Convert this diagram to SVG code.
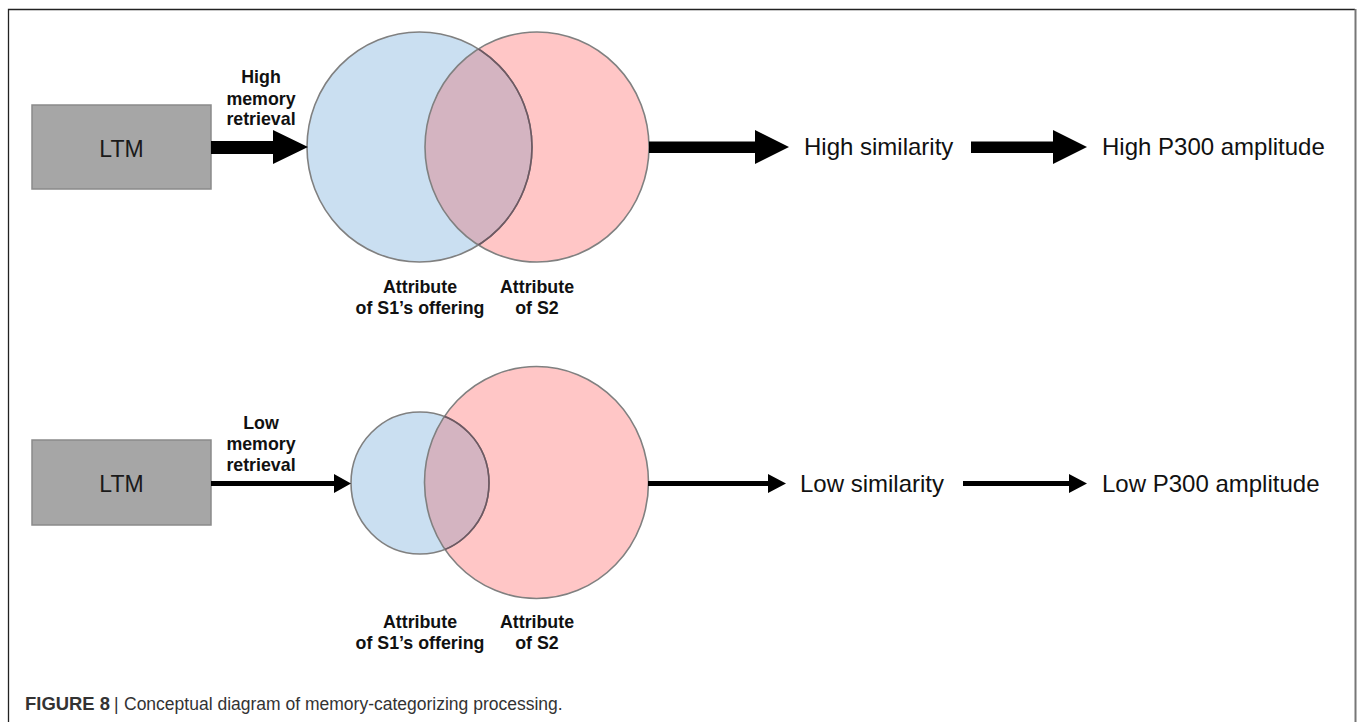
<svg xmlns="http://www.w3.org/2000/svg" width="1358" height="722" viewBox="0 0 1358 722">
<style>
.ltm{fill:#a6a6a6;stroke:#8a8a8a;stroke-width:1.5}
.ltmt{font-family:"Liberation Sans",Arial,sans-serif;font-size:23px;fill:#1a1a1a;text-anchor:middle}
.blue{fill:#cadff1}
.red{fill:#ffc6c6}
.lens{fill:#d4b4c1}
.ring{fill:none;stroke:#808080;stroke-width:1.6}
.ringd{fill:none;stroke:#6e5862;stroke-width:1.6}
.lbl{font-family:"Liberation Sans",Arial,sans-serif;font-size:17.8px;font-weight:bold;fill:#111;text-anchor:middle}
.big{font-family:"Liberation Sans",Arial,sans-serif;font-size:24px;fill:#111}
.arr{fill:#000}
.cap{font-family:"Liberation Sans",Arial,sans-serif;font-size:17.5px;fill:#333}
</style>
<defs>
<clipPath id="clipTopRed"><ellipse cx="537" cy="147" rx="112" ry="115"/></clipPath>
<clipPath id="clipBotRed"><ellipse cx="536.5" cy="482.5" rx="112" ry="116"/></clipPath>
</defs>
<rect x="0" y="0" width="1358" height="722" fill="#fff"/>
<path d="M8.5 722 V9.5 H1355" fill="none" stroke="#222" stroke-width="1.3"/>
<path d="M1355.5 9 V722" fill="none" stroke="#777" stroke-width="2"/>

<g id="ltm-top">
<rect class="ltm" x="32" y="105" width="179" height="84"/>
<text class="ltmt" x="121.5" y="157">LTM</text>
</g>
<g id="label-high-retrieval">
<text class="lbl" x="261" y="83">High</text>
<text class="lbl" x="261" y="105">memory</text>
<text class="lbl" x="261" y="125">retrieval</text>
</g>
<g id="venn-top">
<ellipse class="blue" cx="419.5" cy="147" rx="112.5" ry="115"/>
<ellipse class="red" cx="537" cy="147" rx="112" ry="115"/>
<ellipse class="lens" cx="419.5" cy="147" rx="112.5" ry="115" clip-path="url(#clipTopRed)"/>
<ellipse class="ring" cx="419.5" cy="147" rx="112.5" ry="115"/>
<ellipse class="ring" cx="537" cy="147" rx="112" ry="115"/>
<g clip-path="url(#clipTopRed)"><ellipse class="ringd" cx="419.5" cy="147" rx="112.5" ry="115"/></g>
</g>
<g id="attr-top-s1">
<text class="lbl" x="420" y="293">Attribute</text>
<text class="lbl" x="420" y="314">of S1’s offering</text>
</g>
<g id="attr-top-s2">
<text class="lbl" x="537" y="293">Attribute</text>
<text class="lbl" x="537" y="314">of S2</text>
</g>
<g id="high-similarity"><text class="big" x="804" y="155">High similarity</text></g>
<g id="high-p300"><text class="big" x="1102" y="155">High P300 amplitude</text></g>

<g id="ltm-bottom">
<rect class="ltm" x="32" y="440" width="179" height="85"/>
<text class="ltmt" x="121.5" y="492">LTM</text>
</g>
<g id="label-low-retrieval">
<text class="lbl" x="261" y="429">Low</text>
<text class="lbl" x="261" y="450">memory</text>
<text class="lbl" x="261" y="471">retrieval</text>
</g>
<g id="venn-bottom">
<ellipse class="blue" cx="420" cy="483" rx="69" ry="71"/>
<ellipse class="red" cx="536.5" cy="482.5" rx="112" ry="116"/>
<ellipse class="lens" cx="420" cy="483" rx="69" ry="71" clip-path="url(#clipBotRed)"/>
<ellipse class="ring" cx="420" cy="483" rx="69" ry="71"/>
<ellipse class="ring" cx="536.5" cy="482.5" rx="112" ry="116"/>
<g clip-path="url(#clipBotRed)"><ellipse class="ringd" cx="420" cy="483" rx="69" ry="71"/></g>
</g>
<g id="attr-bottom-s1">
<text class="lbl" x="420" y="628">Attribute</text>
<text class="lbl" x="420" y="649">of S1’s offering</text>
</g>
<g id="attr-bottom-s2">
<text class="lbl" x="537" y="628">Attribute</text>
<text class="lbl" x="537" y="649">of S2</text>
</g>
<g id="low-similarity"><text class="big" x="800" y="492">Low similarity</text></g>
<g id="low-p300"><text class="big" x="1102" y="492">Low P300 amplitude</text></g>

<g id="connectors">
<polygon class="arr" points="211,141 273,141 273,130 308,147 273,164 273,154 211,154"/>
<polygon class="arr" points="649,141.5 755,141.5 755,130 789,147 755,164 755,153 649,153"/>
<polygon class="arr" points="971,141.5 1053,141.5 1053,130 1087,147 1053,164 1053,153 971,153"/>
<polygon class="arr" points="211,481 334,481 334,474 351,483.5 334,493 334,486 211,486"/>
<polygon class="arr" points="648,481 768,481 768,474 786,483.5 768,493 768,486 648,486"/>
<polygon class="arr" points="963,481 1069,481 1069,474 1087,483.5 1069,493 1069,486 963,486"/>
</g>

<g id="caption">
<text class="cap" x="25" y="710" font-weight="bold" fill="#231f20" textLength="85" lengthAdjust="spacingAndGlyphs">FIGURE 8</text>
<text class="cap" x="114" y="710" fill="#555">|</text>
<text class="cap" x="124" y="710">Conceptual diagram of memory-categorizing processing.</text>
</g>
</svg>
